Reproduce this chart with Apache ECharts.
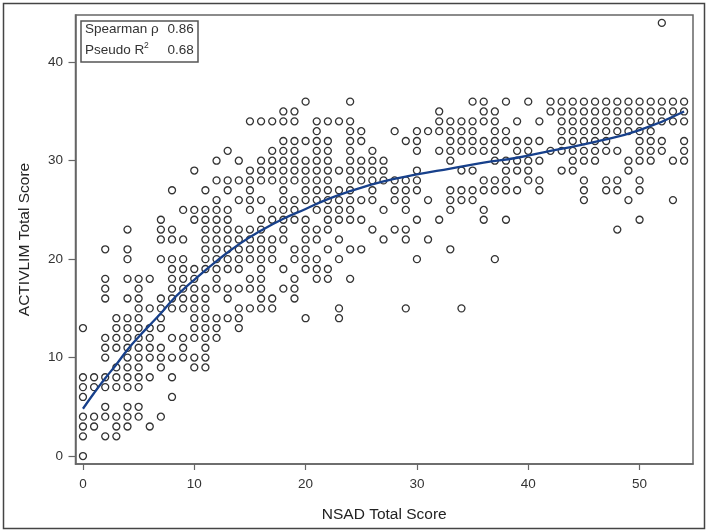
<!DOCTYPE html>
<html>
<head>
<meta charset="utf-8">
<style>html,body{margin:0;padding:0;background:#fff}#c{width:708px;height:532px}</style>
<script src="https://cdn.jsdelivr.net/npm/echarts@6/dist/echarts.min.js"></script>
</head>
<body>
<div id="c"></div>
<script>
const xTicks = [0,10,20,30,40,50];
const yTicks = [0,10,20,30,40];
const xName = 'NSAD Total Score';
const yName = 'ACTIVLIM Total Score';
// ACTIVLIM score -> NSAD scores observed at that ACTIVLIM score
const observedRows = [
 [0,[0]],
 [2,[0,2,3]],
 [3,[0,1,3,4,6]],
 [4,[0,1,2,3,4,5,7]],
 [5,[2,4,5]],
 [6,[0,8]],
 [7,[0,1,2,3,4,5]],
 [8,[0,1,2,3,4,5,6,8]],
 [9,[3,4,5,7,10,11]],
 [10,[2,4,5,6,7,8,9,10,11]],
 [11,[2,3,4,5,6,7,9,11]],
 [12,[2,3,4,5,6,8,9,10,11,12]],
 [13,[0,3,4,5,6,7,10,11,12,14]],
 [14,[3,4,5,7,10,11,12,13,14,20,23]],
 [15,[5,6,7,8,9,10,11,14,15,16,17,23,29,34]],
 [16,[2,4,5,7,8,9,10,11,13,16,17,19]],
 [17,[2,5,8,9,10,11,12,13,14,15,16,18,19]],
 [18,[2,4,5,6,8,9,10,12,15,16,19,21,22,24]],
 [19,[8,9,10,11,12,13,14,16,18,20,21,22]],
 [20,[4,7,8,9,11,12,13,14,15,16,17,19,20,21,23,30,37]],
 [21,[2,4,11,12,13,14,15,16,17,19,20,22,24,25,33]],
 [22,[7,8,9,11,12,13,14,15,16,17,18,20,21,23,27,29,31]],
 [23,[4,7,8,11,12,13,14,15,16,18,20,21,22,26,28,29,48]],
 [24,[7,10,11,12,13,16,17,18,19,20,22,23,24,25,30,32,36,38,50]],
 [25,[9,10,11,12,13,15,17,18,19,21,22,23,24,27,29,33,36]],
 [26,[12,14,15,16,18,19,20,21,22,23,24,25,26,28,29,31,33,34,35,45,49,53]],
 [27,[8,11,13,15,18,20,21,22,23,24,26,28,29,30,33,34,35,36,37,38,39,41,45,47,48,50]],
 [28,[12,13,14,15,16,17,18,19,20,21,22,24,25,26,27,28,29,30,36,37,38,40,41,45,47,48,50]],
 [29,[10,15,16,17,18,19,20,21,22,23,24,25,26,27,30,34,35,38,39,40,43,44,49]],
 [30,[12,14,16,17,18,19,20,21,22,24,25,26,27,33,37,38,39,40,41,44,45,46,49,50,51,53,54]],
 [31,[13,17,18,19,21,22,24,26,30,32,33,34,35,36,37,39,40,42,43,44,45,46,47,48,50,51,52,54]],
 [32,[18,19,20,21,22,24,25,29,30,33,34,35,36,37,38,39,40,41,43,44,45,46,47,50,51,52,54]],
 [33,[21,24,25,28,30,31,32,33,34,35,37,38,43,44,45,46,47,48,49,50,51]],
 [34,[15,16,17,18,19,21,22,23,24,32,33,34,35,36,37,39,41,43,44,45,46,47,48,49,50,51,52,53,54]],
 [35,[18,19,32,36,37,42,43,44,45,46,47,48,49,50,51,52,53,54]],
 [36,[20,24,35,36,38,40,42,43,44,45,46,47,48,49,50,51,52,53,54]],
 [44,[52]]
];
const fitX = [0,1,2,3,4,5,6,7,8,9,10,12,14,16,18,20,22,24,27,30,33,36,39,42,46,50,54];
const fitY = [4.8,6.4,7.9,9.3,10.8,12.1,13.3,14.5,15.8,16.9,17.9,19.8,21.5,22.9,24.1,25.1,26.1,26.9,27.9,28.6,29.2,29.8,30.3,31,31.9,33.1,35];

const points = [];
observedRows.forEach(r => r[1].forEach(x => points.push([x, r[0]])));
const curve = fitX.map((x,i) => [x, fitY[i]]);

const ink = '#333';
const axisStyle = {
  axisLine:{show:true,onZero:false,lineStyle:{color:'#666',width:1.5}},
  splitLine:{show:false},
  nameLocation:'middle',
  nameTextStyle:{fontFamily:'Liberation Sans',fontSize:15.5,color:'#222'}
};
const chart = echarts.init(document.getElementById('c'),null,{renderer:'canvas'});
chart.setOption({
  backgroundColor:'#fff',
  animation:false,
  grid:{left:75.5,top:15,width:617.5,height:449,show:true,borderColor:'#666',borderWidth:1.5,backgroundColor:'#fff',containLabel:false},
  xAxis:Object.assign({type:'value',min:-0.67,max:54.8,name:xName,nameGap:43,
    axisTick:{show:true,length:6,customValues:xTicks,lineStyle:{color:'#666',width:1.2}},
    axisLabel:{customValues:xTicks,margin:13,fontFamily:'Liberation Sans',fontSize:13.5,color:ink,showMinLabel:true,showMaxLabel:true}},axisStyle),
  yAxis:Object.assign({type:'value',min:-0.81,max:44.8,name:yName,nameGap:43,
    axisTick:{show:true,length:7,customValues:yTicks,lineStyle:{color:'#666',width:1.2}},
    axisLabel:{customValues:yTicks,margin:12.5,fontFamily:'Liberation Sans',fontSize:13.5,color:ink,showMinLabel:true,showMaxLabel:true}},axisStyle),
  series:[
    {type:'scatter',data:points,symbol:'circle',symbolSize:7,z:2,silent:true,
      itemStyle:{color:'rgba(255,255,255,0)',borderColor:'#333',borderWidth:1.3,opacity:1}},
    {type:'line',data:curve,smooth:true,symbol:'none',z:3,silent:true,
      lineStyle:{color:'#17408b',width:2.3}}
  ],
  graphic:[
    {type:'rect',silent:true,z:0,shape:{x:3.5,y:3.5,width:701,height:525},style:{fill:'none',stroke:'#444',lineWidth:1.5}},
    {type:'rect',silent:true,z:10,shape:{x:81,y:21,width:117,height:41},style:{fill:'#fff',stroke:'#555',lineWidth:1.5}},
    {type:'text',silent:true,z:11,x:85,y:29,style:{text:'Spearman ρ',font:'13.5px "Liberation Sans"',fill:ink,textVerticalAlign:'middle'}},
    {type:'text',silent:true,z:11,x:167.5,y:29,style:{text:'0.86',font:'13.5px "Liberation Sans"',fill:ink,textVerticalAlign:'middle'}},
    {type:'text',silent:true,z:11,x:85,y:50,style:{text:'Pseudo R',font:'13.5px "Liberation Sans"',fill:ink,textVerticalAlign:'middle'}},
    {type:'text',silent:true,z:11,x:144,y:46,style:{text:'2',font:'8.5px "Liberation Sans"',fill:ink,textVerticalAlign:'middle'}},
    {type:'text',silent:true,z:11,x:167.5,y:50,style:{text:'0.68',font:'13.5px "Liberation Sans"',fill:ink,textVerticalAlign:'middle'}}
  ]
});
</script>
</body>
</html>
